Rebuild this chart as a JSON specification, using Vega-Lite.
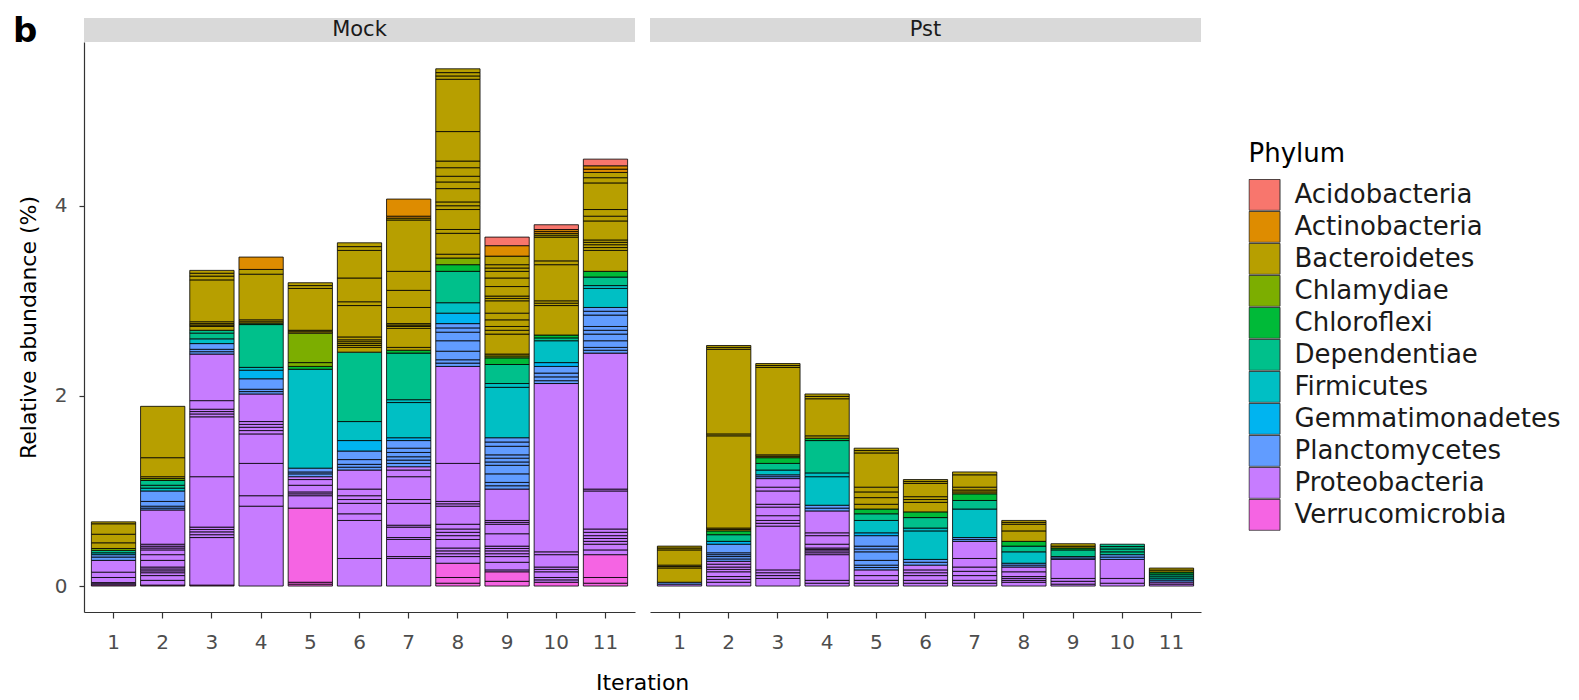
{
"$schema": "https://vega.github.io/schema/vega-lite/v6.json",
"background": "white",
"padding": {"left": 12, "top": 14, "right": 5, "bottom": 5},
"title": {"text": "Iteration", "orient": "bottom", "anchor": "start", "frame": "group", "dx": 512, "offset": 20, "fontSize": 22, "font": "DejaVu Sans", "fontWeight": "normal", "color": "#000"},
"config": {
 "font": "DejaVu Sans",
 "view": {"stroke": null},
 "axis": {"grid": false, "domainColor": "#333", "tickColor": "#333", "domainWidth": 1.2, "tickWidth": 1.2, "labelFont": "DejaVu Sans", "labelFontSize": 20, "labelColor": "#4D4D4D", "titleFont": "DejaVu Sans", "titleFontSize": 22, "titleFontWeight": "normal", "titleColor": "#000"},
 "legend": {"orient": "none", "legendX": 1164.5, "legendY": 123, "padding": 0, "titleFont": "DejaVu Sans", "titleFontSize": 26, "titleFontWeight": "normal", "titleColor": "#000", "titlePadding": 12, "labelFont": "DejaVu Sans", "labelFontSize": 26, "labelColor": "#1A1A1A", "labelOffset": 14, "labelLimit": 400, "symbolType": "square", "symbolSize": 961, "symbolStrokeColor": "#333", "symbolStrokeWidth": 1, "symbolOpacity": 1, "rowPadding": 0, "clipHeight": 31.7}
},
"datasets": {"bars": [
{"g":"Mock","i":1,"p":"Verrucomicrobia","v":0.012,"k":1},
{"g":"Mock","i":1,"p":"Proteobacteria","v":0.012,"k":2},
{"g":"Mock","i":1,"p":"Proteobacteria","v":0.012,"k":3},
{"g":"Mock","i":1,"p":"Proteobacteria","v":0.054,"k":4},
{"g":"Mock","i":1,"p":"Proteobacteria","v":0.056,"k":5},
{"g":"Mock","i":1,"p":"Proteobacteria","v":0.124,"k":6},
{"g":"Mock","i":1,"p":"Planctomycetes","v":0.035,"k":7},
{"g":"Mock","i":1,"p":"Planctomycetes","v":0.025,"k":8},
{"g":"Mock","i":1,"p":"Firmicutes","v":0.02,"k":9},
{"g":"Mock","i":1,"p":"Dependentiae","v":0.025,"k":10},
{"g":"Mock","i":1,"p":"Chlamydiae","v":0.02,"k":11},
{"g":"Mock","i":1,"p":"Bacteroidetes","v":0.06,"k":12},
{"g":"Mock","i":1,"p":"Bacteroidetes","v":0.09,"k":13},
{"g":"Mock","i":1,"p":"Bacteroidetes","v":0.11,"k":14},
{"g":"Mock","i":1,"p":"Bacteroidetes","v":0.02,"k":15},

{"g":"Mock","i":2,"p":"Verrucomicrobia","v":0.01,"k":1},
{"g":"Mock","i":2,"p":"Proteobacteria","v":0.05,"k":2},
{"g":"Mock","i":2,"p":"Proteobacteria","v":0.05,"k":3},
{"g":"Mock","i":2,"p":"Proteobacteria","v":0.03,"k":4},
{"g":"Mock","i":2,"p":"Proteobacteria","v":0.02,"k":5},
{"g":"Mock","i":2,"p":"Proteobacteria","v":0.02,"k":6},
{"g":"Mock","i":2,"p":"Proteobacteria","v":0.02,"k":7},
{"g":"Mock","i":2,"p":"Proteobacteria","v":0.07,"k":8},
{"g":"Mock","i":2,"p":"Proteobacteria","v":0.06,"k":9},
{"g":"Mock","i":2,"p":"Proteobacteria","v":0.05,"k":10},
{"g":"Mock","i":2,"p":"Proteobacteria","v":0.02,"k":11},
{"g":"Mock","i":2,"p":"Proteobacteria","v":0.02,"k":12},
{"g":"Mock","i":2,"p":"Proteobacteria","v":0.02,"k":13},
{"g":"Mock","i":2,"p":"Proteobacteria","v":0.36,"k":14},
{"g":"Mock","i":2,"p":"Planctomycetes","v":0.02,"k":15},
{"g":"Mock","i":2,"p":"Planctomycetes","v":0.02,"k":16},
{"g":"Mock","i":2,"p":"Planctomycetes","v":0.05,"k":17},
{"g":"Mock","i":2,"p":"Planctomycetes","v":0.11,"k":18},
{"g":"Mock","i":2,"p":"Firmicutes","v":0.03,"k":19},
{"g":"Mock","i":2,"p":"Dependentiae","v":0.03,"k":20},
{"g":"Mock","i":2,"p":"Dependentiae","v":0.05,"k":21},
{"g":"Mock","i":2,"p":"Chlamydiae","v":0.02,"k":22},
{"g":"Mock","i":2,"p":"Bacteroidetes","v":0.02,"k":23},
{"g":"Mock","i":2,"p":"Bacteroidetes","v":0.2,"k":24},
{"g":"Mock","i":2,"p":"Bacteroidetes","v":0.54,"k":25},

{"g":"Mock","i":3,"p":"Verrucomicrobia","v":0.01,"k":1},
{"g":"Mock","i":3,"p":"Proteobacteria","v":0.5,"k":2},
{"g":"Mock","i":3,"p":"Proteobacteria","v":0.03,"k":3},
{"g":"Mock","i":3,"p":"Proteobacteria","v":0.03,"k":4},
{"g":"Mock","i":3,"p":"Proteobacteria","v":0.025,"k":5},
{"g":"Mock","i":3,"p":"Proteobacteria","v":0.025,"k":6},
{"g":"Mock","i":3,"p":"Proteobacteria","v":0.53,"k":7},
{"g":"Mock","i":3,"p":"Proteobacteria","v":0.63,"k":8},
{"g":"Mock","i":3,"p":"Proteobacteria","v":0.03,"k":9},
{"g":"Mock","i":3,"p":"Proteobacteria","v":0.025,"k":10},
{"g":"Mock","i":3,"p":"Proteobacteria","v":0.025,"k":11},
{"g":"Mock","i":3,"p":"Proteobacteria","v":0.09,"k":12},
{"g":"Mock","i":3,"p":"Proteobacteria","v":0.49,"k":13},
{"g":"Mock","i":3,"p":"Planctomycetes","v":0.025,"k":14},
{"g":"Mock","i":3,"p":"Planctomycetes","v":0.025,"k":15},
{"g":"Mock","i":3,"p":"Planctomycetes","v":0.06,"k":16},
{"g":"Mock","i":3,"p":"Firmicutes","v":0.05,"k":17},
{"g":"Mock","i":3,"p":"Dependentiae","v":0.06,"k":18},
{"g":"Mock","i":3,"p":"Dependentiae","v":0.03,"k":19},
{"g":"Mock","i":3,"p":"Bacteroidetes","v":0.04,"k":20},
{"g":"Mock","i":3,"p":"Bacteroidetes","v":0.015,"k":21},
{"g":"Mock","i":3,"p":"Bacteroidetes","v":0.015,"k":22},
{"g":"Mock","i":3,"p":"Bacteroidetes","v":0.02,"k":23},
{"g":"Mock","i":3,"p":"Bacteroidetes","v":0.44,"k":24},
{"g":"Mock","i":3,"p":"Bacteroidetes","v":0.04,"k":25},
{"g":"Mock","i":3,"p":"Bacteroidetes","v":0.03,"k":26},
{"g":"Mock","i":3,"p":"Bacteroidetes","v":0.03,"k":27},

{"g":"Mock","i":4,"p":"Proteobacteria","v":0.84,"k":1},
{"g":"Mock","i":4,"p":"Proteobacteria","v":0.11,"k":2},
{"g":"Mock","i":4,"p":"Proteobacteria","v":0.34,"k":3},
{"g":"Mock","i":4,"p":"Proteobacteria","v":0.31,"k":4},
{"g":"Mock","i":4,"p":"Proteobacteria","v":0.035,"k":5},
{"g":"Mock","i":4,"p":"Proteobacteria","v":0.035,"k":6},
{"g":"Mock","i":4,"p":"Proteobacteria","v":0.03,"k":7},
{"g":"Mock","i":4,"p":"Proteobacteria","v":0.03,"k":8},
{"g":"Mock","i":4,"p":"Proteobacteria","v":0.29,"k":9},
{"g":"Mock","i":4,"p":"Planctomycetes","v":0.025,"k":10},
{"g":"Mock","i":4,"p":"Planctomycetes","v":0.025,"k":11},
{"g":"Mock","i":4,"p":"Planctomycetes","v":0.11,"k":12},
{"g":"Mock","i":4,"p":"Gemmatimonadetes","v":0.09,"k":13},
{"g":"Mock","i":4,"p":"Firmicutes","v":0.03,"k":14},
{"g":"Mock","i":4,"p":"Dependentiae","v":0.45,"k":15},
{"g":"Mock","i":4,"p":"Chloroflexi","v":0.015,"k":16},
{"g":"Mock","i":4,"p":"Bacteroidetes","v":0.015,"k":17},
{"g":"Mock","i":4,"p":"Bacteroidetes","v":0.02,"k":18},
{"g":"Mock","i":4,"p":"Bacteroidetes","v":0.48,"k":19},
{"g":"Mock","i":4,"p":"Bacteroidetes","v":0.05,"k":20},
{"g":"Mock","i":4,"p":"Actinobacteria","v":0.13,"k":21},

{"g":"Mock","i":5,"p":"Verrucomicrobia","v":0.02,"k":1},
{"g":"Mock","i":5,"p":"Verrucomicrobia","v":0.02,"k":2},
{"g":"Mock","i":5,"p":"Verrucomicrobia","v":0.78,"k":3},
{"g":"Mock","i":5,"p":"Proteobacteria","v":0.13,"k":4},
{"g":"Mock","i":5,"p":"Proteobacteria","v":0.02,"k":5},
{"g":"Mock","i":5,"p":"Proteobacteria","v":0.02,"k":6},
{"g":"Mock","i":5,"p":"Proteobacteria","v":0.07,"k":7},
{"g":"Mock","i":5,"p":"Proteobacteria","v":0.06,"k":8},
{"g":"Mock","i":5,"p":"Proteobacteria","v":0.03,"k":9},
{"g":"Mock","i":5,"p":"Planctomycetes","v":0.03,"k":10},
{"g":"Mock","i":5,"p":"Planctomycetes","v":0.02,"k":11},
{"g":"Mock","i":5,"p":"Planctomycetes","v":0.04,"k":12},
{"g":"Mock","i":5,"p":"Firmicutes","v":1.04,"k":13},
{"g":"Mock","i":5,"p":"Chloroflexi","v":0.03,"k":14},
{"g":"Mock","i":5,"p":"Chlamydiae","v":0.04,"k":15},
{"g":"Mock","i":5,"p":"Chlamydiae","v":0.31,"k":16},
{"g":"Mock","i":5,"p":"Bacteroidetes","v":0.015,"k":17},
{"g":"Mock","i":5,"p":"Bacteroidetes","v":0.015,"k":18},
{"g":"Mock","i":5,"p":"Bacteroidetes","v":0.44,"k":19},
{"g":"Mock","i":5,"p":"Bacteroidetes","v":0.03,"k":20},
{"g":"Mock","i":5,"p":"Bacteroidetes","v":0.03,"k":21},

{"g":"Mock","i":6,"p":"Proteobacteria","v":0.29,"k":1},
{"g":"Mock","i":6,"p":"Proteobacteria","v":0.4,"k":2},
{"g":"Mock","i":6,"p":"Proteobacteria","v":0.07,"k":3},
{"g":"Mock","i":6,"p":"Proteobacteria","v":0.11,"k":4},
{"g":"Mock","i":6,"p":"Proteobacteria","v":0.04,"k":5},
{"g":"Mock","i":6,"p":"Proteobacteria","v":0.04,"k":6},
{"g":"Mock","i":6,"p":"Proteobacteria","v":0.07,"k":7},
{"g":"Mock","i":6,"p":"Proteobacteria","v":0.2,"k":8},
{"g":"Mock","i":6,"p":"Planctomycetes","v":0.03,"k":9},
{"g":"Mock","i":6,"p":"Planctomycetes","v":0.03,"k":10},
{"g":"Mock","i":6,"p":"Planctomycetes","v":0.05,"k":11},
{"g":"Mock","i":6,"p":"Planctomycetes","v":0.09,"k":12},
{"g":"Mock","i":6,"p":"Gemmatimonadetes","v":0.11,"k":13},
{"g":"Mock","i":6,"p":"Firmicutes","v":0.2,"k":14},
{"g":"Mock","i":6,"p":"Dependentiae","v":0.73,"k":15},
{"g":"Mock","i":6,"p":"Bacteroidetes","v":0.05,"k":16},
{"g":"Mock","i":6,"p":"Bacteroidetes","v":0.02,"k":17},
{"g":"Mock","i":6,"p":"Bacteroidetes","v":0.02,"k":18},
{"g":"Mock","i":6,"p":"Bacteroidetes","v":0.02,"k":19},
{"g":"Mock","i":6,"p":"Bacteroidetes","v":0.02,"k":20},
{"g":"Mock","i":6,"p":"Bacteroidetes","v":0.03,"k":21},
{"g":"Mock","i":6,"p":"Bacteroidetes","v":0.33,"k":22},
{"g":"Mock","i":6,"p":"Bacteroidetes","v":0.04,"k":23},
{"g":"Mock","i":6,"p":"Bacteroidetes","v":0.25,"k":24},
{"g":"Mock","i":6,"p":"Bacteroidetes","v":0.29,"k":25},
{"g":"Mock","i":6,"p":"Bacteroidetes","v":0.04,"k":26},
{"g":"Mock","i":6,"p":"Bacteroidetes","v":0.04,"k":27},

{"g":"Mock","i":7,"p":"Proteobacteria","v":0.29,"k":1},
{"g":"Mock","i":7,"p":"Proteobacteria","v":0.02,"k":2},
{"g":"Mock","i":7,"p":"Proteobacteria","v":0.18,"k":3},
{"g":"Mock","i":7,"p":"Proteobacteria","v":0.02,"k":4},
{"g":"Mock","i":7,"p":"Proteobacteria","v":0.11,"k":5},
{"g":"Mock","i":7,"p":"Proteobacteria","v":0.02,"k":6},
{"g":"Mock","i":7,"p":"Proteobacteria","v":0.23,"k":7},
{"g":"Mock","i":7,"p":"Proteobacteria","v":0.04,"k":8},
{"g":"Mock","i":7,"p":"Proteobacteria","v":0.24,"k":9},
{"g":"Mock","i":7,"p":"Proteobacteria","v":0.07,"k":10},
{"g":"Mock","i":7,"p":"Proteobacteria","v":0.035,"k":11},
{"g":"Mock","i":7,"p":"Planctomycetes","v":0.035,"k":12},
{"g":"Mock","i":7,"p":"Planctomycetes","v":0.035,"k":13},
{"g":"Mock","i":7,"p":"Planctomycetes","v":0.035,"k":14},
{"g":"Mock","i":7,"p":"Planctomycetes","v":0.045,"k":15},
{"g":"Mock","i":7,"p":"Planctomycetes","v":0.045,"k":16},
{"g":"Mock","i":7,"p":"Planctomycetes","v":0.08,"k":17},
{"g":"Mock","i":7,"p":"Gemmatimonadetes","v":0.03,"k":18},
{"g":"Mock","i":7,"p":"Firmicutes","v":0.37,"k":19},
{"g":"Mock","i":7,"p":"Firmicutes","v":0.03,"k":20},
{"g":"Mock","i":7,"p":"Dependentiae","v":0.49,"k":21},
{"g":"Mock","i":7,"p":"Chloroflexi","v":0.03,"k":22},
{"g":"Mock","i":7,"p":"Bacteroidetes","v":0.03,"k":23},
{"g":"Mock","i":7,"p":"Bacteroidetes","v":0.2,"k":24},
{"g":"Mock","i":7,"p":"Bacteroidetes","v":0.02,"k":25},
{"g":"Mock","i":7,"p":"Bacteroidetes","v":0.015,"k":26},
{"g":"Mock","i":7,"p":"Bacteroidetes","v":0.015,"k":27},
{"g":"Mock","i":7,"p":"Bacteroidetes","v":0.17,"k":28},
{"g":"Mock","i":7,"p":"Bacteroidetes","v":0.18,"k":29},
{"g":"Mock","i":7,"p":"Bacteroidetes","v":0.2,"k":30},
{"g":"Mock","i":7,"p":"Bacteroidetes","v":0.54,"k":31},
{"g":"Mock","i":7,"p":"Bacteroidetes","v":0.02,"k":32},
{"g":"Mock","i":7,"p":"Actinobacteria","v":0.02,"k":33},
{"g":"Mock","i":7,"p":"Actinobacteria","v":0.18,"k":34},

{"g":"Mock","i":8,"p":"Verrucomicrobia","v":0.03,"k":1},
{"g":"Mock","i":8,"p":"Verrucomicrobia","v":0.06,"k":2},
{"g":"Mock","i":8,"p":"Verrucomicrobia","v":0.15,"k":3},
{"g":"Mock","i":8,"p":"Proteobacteria","v":0.07,"k":4},
{"g":"Mock","i":8,"p":"Proteobacteria","v":0.03,"k":5},
{"g":"Mock","i":8,"p":"Proteobacteria","v":0.03,"k":6},
{"g":"Mock","i":8,"p":"Proteobacteria","v":0.03,"k":7},
{"g":"Mock","i":8,"p":"Proteobacteria","v":0.09,"k":8},
{"g":"Mock","i":8,"p":"Proteobacteria","v":0.04,"k":9},
{"g":"Mock","i":8,"p":"Proteobacteria","v":0.035,"k":10},
{"g":"Mock","i":8,"p":"Proteobacteria","v":0.035,"k":11},
{"g":"Mock","i":8,"p":"Proteobacteria","v":0.05,"k":12},
{"g":"Mock","i":8,"p":"Proteobacteria","v":0.19,"k":13},
{"g":"Mock","i":8,"p":"Proteobacteria","v":0.025,"k":14},
{"g":"Mock","i":8,"p":"Proteobacteria","v":0.025,"k":15},
{"g":"Mock","i":8,"p":"Proteobacteria","v":0.4,"k":16},
{"g":"Mock","i":8,"p":"Proteobacteria","v":1.02,"k":17},
{"g":"Mock","i":8,"p":"Planctomycetes","v":0.035,"k":18},
{"g":"Mock","i":8,"p":"Planctomycetes","v":0.035,"k":19},
{"g":"Mock","i":8,"p":"Planctomycetes","v":0.09,"k":20},
{"g":"Mock","i":8,"p":"Planctomycetes","v":0.11,"k":21},
{"g":"Mock","i":8,"p":"Planctomycetes","v":0.09,"k":22},
{"g":"Mock","i":8,"p":"Planctomycetes","v":0.045,"k":23},
{"g":"Mock","i":8,"p":"Planctomycetes","v":0.045,"k":24},
{"g":"Mock","i":8,"p":"Gemmatimonadetes","v":0.11,"k":25},
{"g":"Mock","i":8,"p":"Firmicutes","v":0.11,"k":26},
{"g":"Mock","i":8,"p":"Dependentiae","v":0.33,"k":27},
{"g":"Mock","i":8,"p":"Chloroflexi","v":0.07,"k":28},
{"g":"Mock","i":8,"p":"Chlamydiae","v":0.07,"k":29},
{"g":"Mock","i":8,"p":"Bacteroidetes","v":0.04,"k":30},
{"g":"Mock","i":8,"p":"Bacteroidetes","v":0.22,"k":31},
{"g":"Mock","i":8,"p":"Bacteroidetes","v":0.04,"k":32},
{"g":"Mock","i":8,"p":"Bacteroidetes","v":0.21,"k":33},
{"g":"Mock","i":8,"p":"Bacteroidetes","v":0.04,"k":34},
{"g":"Mock","i":8,"p":"Bacteroidetes","v":0.04,"k":35},
{"g":"Mock","i":8,"p":"Bacteroidetes","v":0.14,"k":36},
{"g":"Mock","i":8,"p":"Bacteroidetes","v":0.07,"k":37},
{"g":"Mock","i":8,"p":"Bacteroidetes","v":0.06,"k":38},
{"g":"Mock","i":8,"p":"Bacteroidetes","v":0.09,"k":39},
{"g":"Mock","i":8,"p":"Bacteroidetes","v":0.07,"k":40},
{"g":"Mock","i":8,"p":"Bacteroidetes","v":0.31,"k":41},
{"g":"Mock","i":8,"p":"Bacteroidetes","v":0.55,"k":42},
{"g":"Mock","i":8,"p":"Bacteroidetes","v":0.035,"k":43},
{"g":"Mock","i":8,"p":"Bacteroidetes","v":0.035,"k":44},
{"g":"Mock","i":8,"p":"Bacteroidetes","v":0.04,"k":45},

{"g":"Mock","i":9,"p":"Verrucomicrobia","v":0.05,"k":1},
{"g":"Mock","i":9,"p":"Verrucomicrobia","v":0.1,"k":2},
{"g":"Mock","i":9,"p":"Proteobacteria","v":0.02,"k":3},
{"g":"Mock","i":9,"p":"Proteobacteria","v":0.08,"k":4},
{"g":"Mock","i":9,"p":"Proteobacteria","v":0.06,"k":5},
{"g":"Mock","i":9,"p":"Proteobacteria","v":0.03,"k":6},
{"g":"Mock","i":9,"p":"Proteobacteria","v":0.03,"k":7},
{"g":"Mock","i":9,"p":"Proteobacteria","v":0.025,"k":8},
{"g":"Mock","i":9,"p":"Proteobacteria","v":0.025,"k":9},
{"g":"Mock","i":9,"p":"Proteobacteria","v":0.13,"k":10},
{"g":"Mock","i":9,"p":"Proteobacteria","v":0.1,"k":11},
{"g":"Mock","i":9,"p":"Proteobacteria","v":0.02,"k":12},
{"g":"Mock","i":9,"p":"Proteobacteria","v":0.02,"k":13},
{"g":"Mock","i":9,"p":"Proteobacteria","v":0.33,"k":14},
{"g":"Mock","i":9,"p":"Planctomycetes","v":0.035,"k":15},
{"g":"Mock","i":9,"p":"Planctomycetes","v":0.035,"k":16},
{"g":"Mock","i":9,"p":"Planctomycetes","v":0.09,"k":17},
{"g":"Mock","i":9,"p":"Planctomycetes","v":0.09,"k":18},
{"g":"Mock","i":9,"p":"Planctomycetes","v":0.035,"k":19},
{"g":"Mock","i":9,"p":"Planctomycetes","v":0.04,"k":20},
{"g":"Mock","i":9,"p":"Planctomycetes","v":0.035,"k":21},
{"g":"Mock","i":9,"p":"Planctomycetes","v":0.09,"k":22},
{"g":"Mock","i":9,"p":"Planctomycetes","v":0.045,"k":23},
{"g":"Mock","i":9,"p":"Planctomycetes","v":0.045,"k":24},
{"g":"Mock","i":9,"p":"Firmicutes","v":0.53,"k":25},
{"g":"Mock","i":9,"p":"Firmicutes","v":0.04,"k":26},
{"g":"Mock","i":9,"p":"Dependentiae","v":0.2,"k":27},
{"g":"Mock","i":9,"p":"Chloroflexi","v":0.07,"k":28},
{"g":"Mock","i":9,"p":"Chlamydiae","v":0.02,"k":29},
{"g":"Mock","i":9,"p":"Bacteroidetes","v":0.02,"k":30},
{"g":"Mock","i":9,"p":"Bacteroidetes","v":0.21,"k":31},
{"g":"Mock","i":9,"p":"Bacteroidetes","v":0.04,"k":32},
{"g":"Mock","i":9,"p":"Bacteroidetes","v":0.04,"k":33},
{"g":"Mock","i":9,"p":"Bacteroidetes","v":0.07,"k":34},
{"g":"Mock","i":9,"p":"Bacteroidetes","v":0.07,"k":35},
{"g":"Mock","i":9,"p":"Bacteroidetes","v":0.13,"k":36},
{"g":"Mock","i":9,"p":"Bacteroidetes","v":0.025,"k":37},
{"g":"Mock","i":9,"p":"Bacteroidetes","v":0.025,"k":38},
{"g":"Mock","i":9,"p":"Bacteroidetes","v":0.1,"k":39},
{"g":"Mock","i":9,"p":"Bacteroidetes","v":0.09,"k":40},
{"g":"Mock","i":9,"p":"Bacteroidetes","v":0.07,"k":41},
{"g":"Mock","i":9,"p":"Bacteroidetes","v":0.035,"k":42},
{"g":"Mock","i":9,"p":"Bacteroidetes","v":0.035,"k":43},
{"g":"Mock","i":9,"p":"Bacteroidetes","v":0.09,"k":44},
{"g":"Mock","i":9,"p":"Actinobacteria","v":0.11,"k":45},
{"g":"Mock","i":9,"p":"Acidobacteria","v":0.09,"k":46},

{"g":"Mock","i":10,"p":"Verrucomicrobia","v":0.04,"k":1},
{"g":"Mock","i":10,"p":"Proteobacteria","v":0.025,"k":2},
{"g":"Mock","i":10,"p":"Proteobacteria","v":0.025,"k":3},
{"g":"Mock","i":10,"p":"Proteobacteria","v":0.06,"k":4},
{"g":"Mock","i":10,"p":"Proteobacteria","v":0.025,"k":5},
{"g":"Mock","i":10,"p":"Proteobacteria","v":0.025,"k":6},
{"g":"Mock","i":10,"p":"Proteobacteria","v":0.13,"k":7},
{"g":"Mock","i":10,"p":"Proteobacteria","v":0.03,"k":8},
{"g":"Mock","i":10,"p":"Proteobacteria","v":1.77,"k":9},
{"g":"Mock","i":10,"p":"Planctomycetes","v":0.03,"k":10},
{"g":"Mock","i":10,"p":"Planctomycetes","v":0.04,"k":11},
{"g":"Mock","i":10,"p":"Planctomycetes","v":0.04,"k":12},
{"g":"Mock","i":10,"p":"Planctomycetes","v":0.07,"k":13},
{"g":"Mock","i":10,"p":"Gemmatimonadetes","v":0.04,"k":14},
{"g":"Mock","i":10,"p":"Firmicutes","v":0.23,"k":15},
{"g":"Mock","i":10,"p":"Dependentiae","v":0.03,"k":16},
{"g":"Mock","i":10,"p":"Chloroflexi","v":0.03,"k":17},
{"g":"Mock","i":10,"p":"Bacteroidetes","v":0.31,"k":18},
{"g":"Mock","i":10,"p":"Bacteroidetes","v":0.025,"k":19},
{"g":"Mock","i":10,"p":"Bacteroidetes","v":0.025,"k":20},
{"g":"Mock","i":10,"p":"Bacteroidetes","v":0.38,"k":21},
{"g":"Mock","i":10,"p":"Bacteroidetes","v":0.04,"k":22},
{"g":"Mock","i":10,"p":"Bacteroidetes","v":0.25,"k":23},
{"g":"Mock","i":10,"p":"Bacteroidetes","v":0.02,"k":24},
{"g":"Mock","i":10,"p":"Bacteroidetes","v":0.02,"k":25},
{"g":"Mock","i":10,"p":"Actinobacteria","v":0.02,"k":26},
{"g":"Mock","i":10,"p":"Actinobacteria","v":0.02,"k":27},
{"g":"Mock","i":10,"p":"Acidobacteria","v":0.05,"k":28},

{"g":"Mock","i":11,"p":"Verrucomicrobia","v":0.03,"k":1},
{"g":"Mock","i":11,"p":"Verrucomicrobia","v":0.06,"k":2},
{"g":"Mock","i":11,"p":"Verrucomicrobia","v":0.24,"k":3},
{"g":"Mock","i":11,"p":"Proteobacteria","v":0.05,"k":4},
{"g":"Mock","i":11,"p":"Proteobacteria","v":0.06,"k":5},
{"g":"Mock","i":11,"p":"Proteobacteria","v":0.03,"k":6},
{"g":"Mock","i":11,"p":"Proteobacteria","v":0.03,"k":7},
{"g":"Mock","i":11,"p":"Proteobacteria","v":0.03,"k":8},
{"g":"Mock","i":11,"p":"Proteobacteria","v":0.035,"k":9},
{"g":"Mock","i":11,"p":"Proteobacteria","v":0.035,"k":10},
{"g":"Mock","i":11,"p":"Proteobacteria","v":0.4,"k":11},
{"g":"Mock","i":11,"p":"Proteobacteria","v":0.02,"k":12},
{"g":"Mock","i":11,"p":"Proteobacteria","v":1.43,"k":13},
{"g":"Mock","i":11,"p":"Planctomycetes","v":0.03,"k":14},
{"g":"Mock","i":11,"p":"Planctomycetes","v":0.03,"k":15},
{"g":"Mock","i":11,"p":"Planctomycetes","v":0.07,"k":16},
{"g":"Mock","i":11,"p":"Planctomycetes","v":0.07,"k":17},
{"g":"Mock","i":11,"p":"Planctomycetes","v":0.04,"k":18},
{"g":"Mock","i":11,"p":"Planctomycetes","v":0.04,"k":19},
{"g":"Mock","i":11,"p":"Planctomycetes","v":0.12,"k":20},
{"g":"Mock","i":11,"p":"Planctomycetes","v":0.04,"k":21},
{"g":"Mock","i":11,"p":"Planctomycetes","v":0.04,"k":22},
{"g":"Mock","i":11,"p":"Firmicutes","v":0.2,"k":23},
{"g":"Mock","i":11,"p":"Firmicutes","v":0.03,"k":24},
{"g":"Mock","i":11,"p":"Dependentiae","v":0.09,"k":25},
{"g":"Mock","i":11,"p":"Chloroflexi","v":0.06,"k":26},
{"g":"Mock","i":11,"p":"Bacteroidetes","v":0.22,"k":27},
{"g":"Mock","i":11,"p":"Bacteroidetes","v":0.03,"k":28},
{"g":"Mock","i":11,"p":"Bacteroidetes","v":0.03,"k":29},
{"g":"Mock","i":11,"p":"Bacteroidetes","v":0.025,"k":30},
{"g":"Mock","i":11,"p":"Bacteroidetes","v":0.025,"k":31},
{"g":"Mock","i":11,"p":"Bacteroidetes","v":0.2,"k":32},
{"g":"Mock","i":11,"p":"Bacteroidetes","v":0.05,"k":33},
{"g":"Mock","i":11,"p":"Bacteroidetes","v":0.07,"k":34},
{"g":"Mock","i":11,"p":"Bacteroidetes","v":0.28,"k":35},
{"g":"Mock","i":11,"p":"Bacteroidetes","v":0.055,"k":36},
{"g":"Mock","i":11,"p":"Bacteroidetes","v":0.055,"k":37},
{"g":"Mock","i":11,"p":"Actinobacteria","v":0.035,"k":38},
{"g":"Mock","i":11,"p":"Actinobacteria","v":0.035,"k":39},
{"g":"Mock","i":11,"p":"Acidobacteria","v":0.07,"k":40},

{"g":"Pst","i":1,"p":"Proteobacteria","v":0.02,"k":1},
{"g":"Pst","i":1,"p":"Planctomycetes","v":0.02,"k":2},
{"g":"Pst","i":1,"p":"Bacteroidetes","v":0.15,"k":3},
{"g":"Pst","i":1,"p":"Bacteroidetes","v":0.015,"k":4},
{"g":"Pst","i":1,"p":"Bacteroidetes","v":0.015,"k":5},
{"g":"Pst","i":1,"p":"Bacteroidetes","v":0.16,"k":6},
{"g":"Pst","i":1,"p":"Bacteroidetes","v":0.02,"k":7},
{"g":"Pst","i":1,"p":"Bacteroidetes","v":0.02,"k":8},

{"g":"Pst","i":2,"p":"Proteobacteria","v":0.04,"k":1},
{"g":"Pst","i":2,"p":"Proteobacteria","v":0.03,"k":2},
{"g":"Pst","i":2,"p":"Proteobacteria","v":0.03,"k":3},
{"g":"Pst","i":2,"p":"Proteobacteria","v":0.05,"k":4},
{"g":"Pst","i":2,"p":"Proteobacteria","v":0.025,"k":5},
{"g":"Pst","i":2,"p":"Proteobacteria","v":0.025,"k":6},
{"g":"Pst","i":2,"p":"Proteobacteria","v":0.03,"k":7},
{"g":"Pst","i":2,"p":"Proteobacteria","v":0.03,"k":8},
{"g":"Pst","i":2,"p":"Planctomycetes","v":0.025,"k":9},
{"g":"Pst","i":2,"p":"Planctomycetes","v":0.025,"k":10},
{"g":"Pst","i":2,"p":"Planctomycetes","v":0.02,"k":11},
{"g":"Pst","i":2,"p":"Planctomycetes","v":0.02,"k":12},
{"g":"Pst","i":2,"p":"Planctomycetes","v":0.09,"k":13},
{"g":"Pst","i":2,"p":"Gemmatimonadetes","v":0.03,"k":14},
{"g":"Pst","i":2,"p":"Dependentiae","v":0.07,"k":15},
{"g":"Pst","i":2,"p":"Chloroflexi","v":0.04,"k":16},
{"g":"Pst","i":2,"p":"Bacteroidetes","v":0.015,"k":17},
{"g":"Pst","i":2,"p":"Bacteroidetes","v":0.015,"k":18},
{"g":"Pst","i":2,"p":"Bacteroidetes","v":0.97,"k":19},
{"g":"Pst","i":2,"p":"Bacteroidetes","v":0.02,"k":20},
{"g":"Pst","i":2,"p":"Bacteroidetes","v":0.89,"k":21},
{"g":"Pst","i":2,"p":"Bacteroidetes","v":0.02,"k":22},
{"g":"Pst","i":2,"p":"Bacteroidetes","v":0.02,"k":23},

{"g":"Pst","i":3,"p":"Proteobacteria","v":0.08,"k":1},
{"g":"Pst","i":3,"p":"Proteobacteria","v":0.03,"k":2},
{"g":"Pst","i":3,"p":"Proteobacteria","v":0.03,"k":3},
{"g":"Pst","i":3,"p":"Proteobacteria","v":0.03,"k":4},
{"g":"Pst","i":3,"p":"Proteobacteria","v":0.46,"k":5},
{"g":"Pst","i":3,"p":"Proteobacteria","v":0.03,"k":6},
{"g":"Pst","i":3,"p":"Proteobacteria","v":0.03,"k":7},
{"g":"Pst","i":3,"p":"Proteobacteria","v":0.05,"k":8},
{"g":"Pst","i":3,"p":"Proteobacteria","v":0.09,"k":9},
{"g":"Pst","i":3,"p":"Proteobacteria","v":0.03,"k":10},
{"g":"Pst","i":3,"p":"Proteobacteria","v":0.14,"k":11},
{"g":"Pst","i":3,"p":"Proteobacteria","v":0.04,"k":12},
{"g":"Pst","i":3,"p":"Proteobacteria","v":0.09,"k":13},
{"g":"Pst","i":3,"p":"Planctomycetes","v":0.02,"k":14},
{"g":"Pst","i":3,"p":"Planctomycetes","v":0.02,"k":15},
{"g":"Pst","i":3,"p":"Firmicutes","v":0.05,"k":16},
{"g":"Pst","i":3,"p":"Dependentiae","v":0.07,"k":17},
{"g":"Pst","i":3,"p":"Chloroflexi","v":0.06,"k":18},
{"g":"Pst","i":3,"p":"Bacteroidetes","v":0.015,"k":19},
{"g":"Pst","i":3,"p":"Bacteroidetes","v":0.015,"k":20},
{"g":"Pst","i":3,"p":"Bacteroidetes","v":0.92,"k":21},
{"g":"Pst","i":3,"p":"Bacteroidetes","v":0.02,"k":22},
{"g":"Pst","i":3,"p":"Bacteroidetes","v":0.02,"k":23},

{"g":"Pst","i":4,"p":"Proteobacteria","v":0.03,"k":1},
{"g":"Pst","i":4,"p":"Proteobacteria","v":0.03,"k":2},
{"g":"Pst","i":4,"p":"Proteobacteria","v":0.27,"k":3},
{"g":"Pst","i":4,"p":"Proteobacteria","v":0.02,"k":4},
{"g":"Pst","i":4,"p":"Proteobacteria","v":0.02,"k":5},
{"g":"Pst","i":4,"p":"Proteobacteria","v":0.015,"k":6},
{"g":"Pst","i":4,"p":"Proteobacteria","v":0.015,"k":7},
{"g":"Pst","i":4,"p":"Proteobacteria","v":0.04,"k":8},
{"g":"Pst","i":4,"p":"Proteobacteria","v":0.09,"k":9},
{"g":"Pst","i":4,"p":"Proteobacteria","v":0.03,"k":10},
{"g":"Pst","i":4,"p":"Proteobacteria","v":0.23,"k":11},
{"g":"Pst","i":4,"p":"Planctomycetes","v":0.03,"k":12},
{"g":"Pst","i":4,"p":"Planctomycetes","v":0.03,"k":13},
{"g":"Pst","i":4,"p":"Firmicutes","v":0.3,"k":14},
{"g":"Pst","i":4,"p":"Firmicutes","v":0.04,"k":15},
{"g":"Pst","i":4,"p":"Dependentiae","v":0.34,"k":16},
{"g":"Pst","i":4,"p":"Chloroflexi","v":0.025,"k":17},
{"g":"Pst","i":4,"p":"Bacteroidetes","v":0.025,"k":18},
{"g":"Pst","i":4,"p":"Bacteroidetes","v":0.39,"k":19},
{"g":"Pst","i":4,"p":"Bacteroidetes","v":0.025,"k":20},
{"g":"Pst","i":4,"p":"Bacteroidetes","v":0.025,"k":21},

{"g":"Pst","i":5,"p":"Proteobacteria","v":0.03,"k":1},
{"g":"Pst","i":5,"p":"Proteobacteria","v":0.03,"k":2},
{"g":"Pst","i":5,"p":"Proteobacteria","v":0.05,"k":3},
{"g":"Pst","i":5,"p":"Proteobacteria","v":0.06,"k":4},
{"g":"Pst","i":5,"p":"Planctomycetes","v":0.025,"k":5},
{"g":"Pst","i":5,"p":"Planctomycetes","v":0.025,"k":6},
{"g":"Pst","i":5,"p":"Planctomycetes","v":0.05,"k":7},
{"g":"Pst","i":5,"p":"Planctomycetes","v":0.09,"k":8},
{"g":"Pst","i":5,"p":"Planctomycetes","v":0.03,"k":9},
{"g":"Pst","i":5,"p":"Planctomycetes","v":0.03,"k":10},
{"g":"Pst","i":5,"p":"Planctomycetes","v":0.11,"k":11},
{"g":"Pst","i":5,"p":"Gemmatimonadetes","v":0.03,"k":12},
{"g":"Pst","i":5,"p":"Firmicutes","v":0.13,"k":13},
{"g":"Pst","i":5,"p":"Dependentiae","v":0.07,"k":14},
{"g":"Pst","i":5,"p":"Chloroflexi","v":0.05,"k":15},
{"g":"Pst","i":5,"p":"Bacteroidetes","v":0.05,"k":16},
{"g":"Pst","i":5,"p":"Bacteroidetes","v":0.07,"k":17},
{"g":"Pst","i":5,"p":"Bacteroidetes","v":0.06,"k":18},
{"g":"Pst","i":5,"p":"Bacteroidetes","v":0.05,"k":19},
{"g":"Pst","i":5,"p":"Bacteroidetes","v":0.36,"k":20},
{"g":"Pst","i":5,"p":"Bacteroidetes","v":0.025,"k":21},
{"g":"Pst","i":5,"p":"Bacteroidetes","v":0.025,"k":22},

{"g":"Pst","i":6,"p":"Proteobacteria","v":0.03,"k":1},
{"g":"Pst","i":6,"p":"Proteobacteria","v":0.03,"k":2},
{"g":"Pst","i":6,"p":"Proteobacteria","v":0.05,"k":3},
{"g":"Pst","i":6,"p":"Proteobacteria","v":0.03,"k":4},
{"g":"Pst","i":6,"p":"Proteobacteria","v":0.03,"k":5},
{"g":"Pst","i":6,"p":"Proteobacteria","v":0.05,"k":6},
{"g":"Pst","i":6,"p":"Planctomycetes","v":0.03,"k":7},
{"g":"Pst","i":6,"p":"Planctomycetes","v":0.03,"k":8},
{"g":"Pst","i":6,"p":"Firmicutes","v":0.3,"k":9},
{"g":"Pst","i":6,"p":"Firmicutes","v":0.03,"k":10},
{"g":"Pst","i":6,"p":"Dependentiae","v":0.11,"k":11},
{"g":"Pst","i":6,"p":"Chloroflexi","v":0.06,"k":12},
{"g":"Pst","i":6,"p":"Bacteroidetes","v":0.1,"k":13},
{"g":"Pst","i":6,"p":"Bacteroidetes","v":0.03,"k":14},
{"g":"Pst","i":6,"p":"Bacteroidetes","v":0.03,"k":15},
{"g":"Pst","i":6,"p":"Bacteroidetes","v":0.14,"k":16},
{"g":"Pst","i":6,"p":"Bacteroidetes","v":0.02,"k":17},
{"g":"Pst","i":6,"p":"Bacteroidetes","v":0.02,"k":18},

{"g":"Pst","i":7,"p":"Proteobacteria","v":0.03,"k":1},
{"g":"Pst","i":7,"p":"Proteobacteria","v":0.03,"k":2},
{"g":"Pst","i":7,"p":"Proteobacteria","v":0.05,"k":3},
{"g":"Pst","i":7,"p":"Proteobacteria","v":0.045,"k":4},
{"g":"Pst","i":7,"p":"Proteobacteria","v":0.045,"k":5},
{"g":"Pst","i":7,"p":"Proteobacteria","v":0.09,"k":6},
{"g":"Pst","i":7,"p":"Proteobacteria","v":0.18,"k":7},
{"g":"Pst","i":7,"p":"Planctomycetes","v":0.02,"k":8},
{"g":"Pst","i":7,"p":"Planctomycetes","v":0.02,"k":9},
{"g":"Pst","i":7,"p":"Firmicutes","v":0.3,"k":10},
{"g":"Pst","i":7,"p":"Dependentiae","v":0.09,"k":11},
{"g":"Pst","i":7,"p":"Chloroflexi","v":0.07,"k":12},
{"g":"Pst","i":7,"p":"Bacteroidetes","v":0.02,"k":13},
{"g":"Pst","i":7,"p":"Bacteroidetes","v":0.02,"k":14},
{"g":"Pst","i":7,"p":"Bacteroidetes","v":0.03,"k":15},
{"g":"Pst","i":7,"p":"Bacteroidetes","v":0.13,"k":16},
{"g":"Pst","i":7,"p":"Bacteroidetes","v":0.03,"k":17},

{"g":"Pst","i":8,"p":"Proteobacteria","v":0.04,"k":1},
{"g":"Pst","i":8,"p":"Proteobacteria","v":0.02,"k":2},
{"g":"Pst","i":8,"p":"Proteobacteria","v":0.02,"k":3},
{"g":"Pst","i":8,"p":"Proteobacteria","v":0.02,"k":4},
{"g":"Pst","i":8,"p":"Proteobacteria","v":0.05,"k":5},
{"g":"Pst","i":8,"p":"Proteobacteria","v":0.05,"k":6},
{"g":"Pst","i":8,"p":"Planctomycetes","v":0.02,"k":7},
{"g":"Pst","i":8,"p":"Planctomycetes","v":0.02,"k":8},
{"g":"Pst","i":8,"p":"Firmicutes","v":0.12,"k":9},
{"g":"Pst","i":8,"p":"Dependentiae","v":0.06,"k":10},
{"g":"Pst","i":8,"p":"Chloroflexi","v":0.05,"k":11},
{"g":"Pst","i":8,"p":"Bacteroidetes","v":0.11,"k":12},
{"g":"Pst","i":8,"p":"Bacteroidetes","v":0.07,"k":13},
{"g":"Pst","i":8,"p":"Bacteroidetes","v":0.02,"k":14},
{"g":"Pst","i":8,"p":"Bacteroidetes","v":0.02,"k":15},

{"g":"Pst","i":9,"p":"Proteobacteria","v":0.02,"k":1},
{"g":"Pst","i":9,"p":"Proteobacteria","v":0.03,"k":2},
{"g":"Pst","i":9,"p":"Proteobacteria","v":0.03,"k":3},
{"g":"Pst","i":9,"p":"Proteobacteria","v":0.2,"k":4},
{"g":"Pst","i":9,"p":"Planctomycetes","v":0.015,"k":5},
{"g":"Pst","i":9,"p":"Planctomycetes","v":0.015,"k":6},
{"g":"Pst","i":9,"p":"Dependentiae","v":0.07,"k":7},
{"g":"Pst","i":9,"p":"Chloroflexi","v":0.02,"k":8},
{"g":"Pst","i":9,"p":"Bacteroidetes","v":0.02,"k":9},
{"g":"Pst","i":9,"p":"Bacteroidetes","v":0.025,"k":10},

{"g":"Pst","i":10,"p":"Proteobacteria","v":0.03,"k":1},
{"g":"Pst","i":10,"p":"Proteobacteria","v":0.05,"k":2},
{"g":"Pst","i":10,"p":"Proteobacteria","v":0.2,"k":3},
{"g":"Pst","i":10,"p":"Planctomycetes","v":0.025,"k":4},
{"g":"Pst","i":10,"p":"Planctomycetes","v":0.025,"k":5},
{"g":"Pst","i":10,"p":"Dependentiae","v":0.03,"k":6},
{"g":"Pst","i":10,"p":"Dependentiae","v":0.03,"k":7},
{"g":"Pst","i":10,"p":"Dependentiae","v":0.025,"k":8},
{"g":"Pst","i":10,"p":"Dependentiae","v":0.025,"k":9},

{"g":"Pst","i":11,"p":"Proteobacteria","v":0.021,"k":1},
{"g":"Pst","i":11,"p":"Proteobacteria","v":0.021,"k":2},
{"g":"Pst","i":11,"p":"Planctomycetes","v":0.021,"k":3},
{"g":"Pst","i":11,"p":"Firmicutes","v":0.021,"k":4},
{"g":"Pst","i":11,"p":"Dependentiae","v":0.021,"k":5},
{"g":"Pst","i":11,"p":"Dependentiae","v":0.021,"k":6},
{"g":"Pst","i":11,"p":"Chloroflexi","v":0.021,"k":7},
{"g":"Pst","i":11,"p":"Bacteroidetes","v":0.021,"k":8},
{"g":"Pst","i":11,"p":"Bacteroidetes","v":0.021,"k":9}
]},
"resolve": {"scale": {"color": "shared"}, "legend": {"color": "shared"}},
"spacing": 15,
"hconcat": [
 {"vconcat": [
   {"width": 551, "height": 24, "view": {"fill": "#D9D9D9", "stroke": null},
    "data": {"values": [{"g": "Mock"}]},
    "mark": {"type": "text", "fontSize": 21, "font": "DejaVu Sans", "color": "#1A1A1A", "baseline": "middle", "align": "center"},
    "encoding": {
      "text": {"field": "g"},
      "y": {"datum": 0, "type": "quantitative", "scale": {"domain": [-1, 1]},
            "axis": {"title": "b", "titleAngle": 0, "titleFontSize": 34, "titleFontWeight": "bold", "titleColor": "#000", "titleFont": "DejaVu Sans", "titleX": -71.5, "titleY": 23, "titleAlign": "left", "titleBaseline": "alphabetic", "domain": false, "ticks": false, "labels": false, "grid": false}}
    }},
   {"width": 551, "height": 570,
    "data": {"name": "bars"},
    "transform": [{"filter": "datum.g == 'Mock'"}],
    "mark": {"type": "bar", "stroke": "#000", "strokeWidth": 0.9, "strokeOpacity": 0.9},
    "encoding": {
     "x": {"field": "i", "type": "ordinal", "scale": {"paddingInner": 0.1, "paddingOuter": 0.15},
           "axis": {"labelAngle": 0, "tickSize": 6, "labelPadding": 14.5, "title": null}},
     "y": {"field": "v", "type": "quantitative", "stack": "zero", "scale": {"domain": [-0.273, 5.722], "nice": false, "zero": false},
           "axis": {"values": [0, 2, 4], "tickSize": 5, "labelPadding": 12, "title": "Relative abundance (%)", "titlePadding": 14}},
     "color": {"field": "p", "type": "nominal", "title": "Phylum",
       "scale": {"domain": ["Acidobacteria","Actinobacteria","Bacteroidetes","Chlamydiae","Chloroflexi","Dependentiae","Firmicutes","Gemmatimonadetes","Planctomycetes","Proteobacteria","Verrucomicrobia"],
                 "range": ["#F8766D","#DE8C00","#B79F00","#7CAE00","#00BA38","#00C08B","#00BFC4","#00B4F0","#619CFF","#C77CFF","#F564E3"]}},
     "order": {"field": "k", "type": "quantitative"}
    }}
  ], "spacing": 0, "bounds": "flush"},
 {"vconcat": [
   {"width": 551, "height": 24, "view": {"fill": "#D9D9D9", "stroke": null},
    "data": {"values": [{"g": "Pst"}]},
    "mark": {"type": "text", "fontSize": 21, "font": "DejaVu Sans", "color": "#1A1A1A", "baseline": "middle", "align": "center"},
    "encoding": {"text": {"field": "g"}}},
   {"width": 551, "height": 570,
    "data": {"name": "bars"},
    "transform": [{"filter": "datum.g == 'Pst'"}],
    "mark": {"type": "bar", "stroke": "#000", "strokeWidth": 0.9, "strokeOpacity": 0.9},
    "encoding": {
     "x": {"field": "i", "type": "ordinal", "scale": {"paddingInner": 0.1, "paddingOuter": 0.15},
           "axis": {"labelAngle": 0, "tickSize": 6, "labelPadding": 14.5, "title": null}},
     "y": {"field": "v", "type": "quantitative", "stack": "zero", "scale": {"domain": [-0.273, 5.722], "nice": false, "zero": false},
           "axis": null},
     "color": {"field": "p", "type": "nominal", "title": "Phylum",
       "scale": {"domain": ["Acidobacteria","Actinobacteria","Bacteroidetes","Chlamydiae","Chloroflexi","Dependentiae","Firmicutes","Gemmatimonadetes","Planctomycetes","Proteobacteria","Verrucomicrobia"],
                 "range": ["#F8766D","#DE8C00","#B79F00","#7CAE00","#00BA38","#00C08B","#00BFC4","#00B4F0","#619CFF","#C77CFF","#F564E3"]}},
     "order": {"field": "k", "type": "quantitative"}
    }}
  ], "spacing": 0, "bounds": "flush"}
]
}
